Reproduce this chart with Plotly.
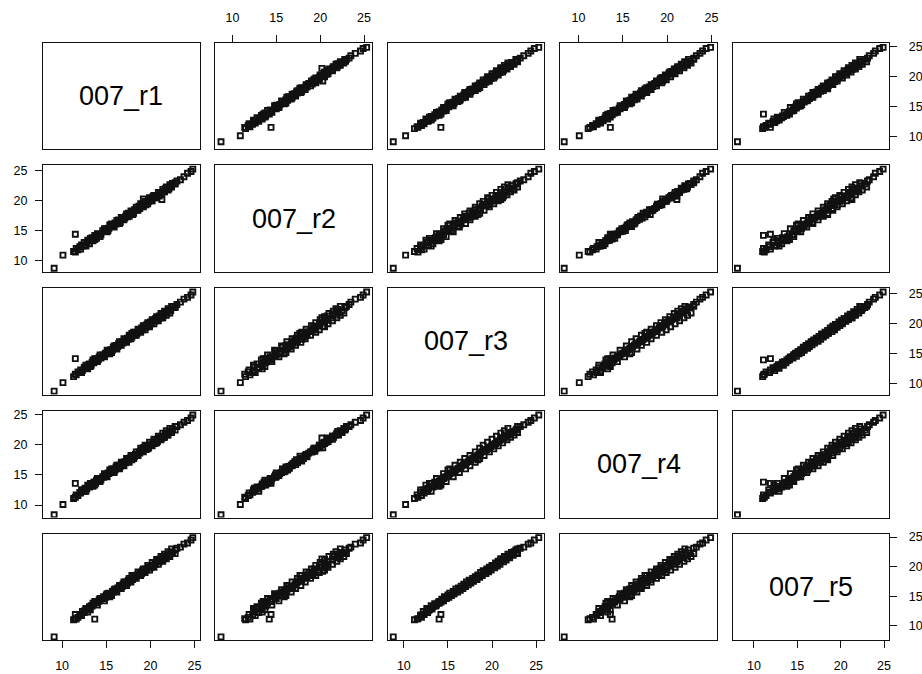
import plotly.graph_objects as go

names = ["007_r1", "007_r2", "007_r3", "007_r4", "007_r5"]
tick_values = [10, 15, 20, 25]

r1 = [11.3, 11.5, 11.6, 11.8, 12.0, 12.1, 12.3, 12.5, 12.6, 12.8, 13.0, 13.1, 13.3, 13.4, 13.6, 13.8,
      13.9, 14.1, 14.2, 14.4, 14.6, 14.7, 14.9, 15.0, 15.2, 15.3, 15.5, 15.7, 15.8, 16.0, 16.1, 16.3,
      16.4, 16.6, 16.8, 16.9, 17.1, 17.2, 17.4, 17.5, 17.7, 17.9, 18.0, 18.2, 18.3, 18.5, 18.7, 18.8,
      19.0, 19.1, 19.3, 19.5, 19.6, 19.8, 20.0, 20.1, 20.3, 20.5, 20.6, 20.8, 21.0, 21.1, 21.3, 21.5,
      21.7, 21.9, 22.1, 22.3, 22.5, 22.8, 23.0, 23.4, 23.8, 24.2, 24.6, 24.8,
      9.1, 10.1, 13.7, 11.5, 21.3, 19.2, 22.8,
      12.2, 12.7, 13.2, 13.5, 14.0, 14.3, 14.8, 15.1, 15.4, 15.9, 16.2, 16.5, 16.7, 17.0, 17.3, 17.6,
      17.8, 18.1, 18.4, 18.6, 18.9, 19.2, 19.4, 19.7, 19.9, 20.2, 20.4, 20.7, 20.9, 21.2, 21.4, 21.6,
      21.8, 22.0, 22.2, 22.4, 12.9, 13.7, 15.6, 17.9]
r2 = [11.5, 11.4, 12.0, 11.8, 12.3, 11.9, 12.4, 13.0, 12.5, 13.0, 13.3, 12.8, 13.4, 13.8, 13.6, 14.0,
      13.7, 14.4, 14.3, 14.3, 15.0, 14.9, 14.9, 15.3, 15.0, 15.4, 16.0, 15.9, 15.7, 16.3, 16.1, 16.5,
      16.8, 16.4, 16.9, 17.2, 17.1, 17.4, 17.3, 17.9, 17.8, 18.1, 17.7, 18.5, 18.4, 18.5, 19.1, 18.7,
      19.2, 19.4, 19.3, 19.3, 19.9, 19.9, 20.2, 20.0, 20.7, 20.5, 20.8, 20.9, 20.8, 21.4, 21.4, 21.5,
      22.0, 22.1, 22.0, 22.5, 22.9, 22.8, 23.3, 23.5, 24.0, 24.6, 24.9, 25.3,
      8.7, 10.9, 14.2, 14.4, 20.2, 20.3, 23.0,
      12.6, 12.4, 13.7, 13.3, 14.5, 14.0, 15.3, 14.8, 15.9, 15.6, 16.7, 16.2, 17.2, 16.8, 17.8, 17.4,
      18.3, 17.9, 18.9, 18.4, 19.5, 19.0, 19.9, 19.5, 20.5, 20.0, 20.9, 20.5, 21.4, 21.0, 21.9, 21.5,
      22.3, 21.8, 22.7, 22.3, 13.4, 13.5, 16.1, 17.7]
r3 = [11.2, 11.6, 11.5, 12.0, 11.9, 12.3, 12.2, 12.7, 12.8, 12.6, 13.2, 13.3, 13.1, 13.6, 13.5, 13.9,
      14.2, 14.0, 14.5, 14.3, 14.8, 14.6, 15.1, 15.0, 15.4, 15.2, 15.7, 15.6, 16.1, 15.9, 16.4, 16.2,
      16.7, 16.5, 17.0, 16.8, 17.3, 17.1, 17.6, 17.4, 17.9, 17.8, 18.3, 18.1, 18.6, 18.4, 18.9, 18.7,
      19.3, 19.0, 19.6, 19.4, 19.9, 19.7, 20.3, 20.0, 20.6, 20.4, 20.9, 20.7, 21.3, 21.0, 21.6, 21.4,
      22.0, 21.8, 22.4, 22.2, 22.8, 22.7, 23.2, 23.6, 24.1, 24.4, 24.8, 25.3,
      8.8, 10.2, 14.0, 14.2, 21.0, 19.6, 22.9,
      11.9, 13.1, 12.9, 14.0, 13.7, 14.8, 14.5, 15.6, 15.0, 16.3, 15.8, 17.0, 16.4, 17.5, 16.9, 18.1,
      17.5, 18.6, 18.1, 19.1, 18.6, 19.7, 19.0, 20.2, 19.5, 20.7, 20.0, 21.2, 20.5, 21.7, 21.0, 22.1,
      21.4, 22.5, 21.8, 22.9, 12.5, 14.2, 15.2, 18.4]
r4 = [11.1, 11.3, 11.7, 11.6, 12.1, 12.0, 12.5, 12.3, 12.8, 12.7, 13.1, 13.0, 13.5, 13.3, 13.8, 13.6,
      14.1, 14.0, 14.4, 14.2, 14.7, 14.6, 15.0, 14.9, 15.3, 15.2, 15.6, 15.5, 16.0, 15.8, 16.3, 16.1,
      16.6, 16.4, 16.9, 16.7, 17.2, 17.0, 17.5, 17.3, 17.8, 17.7, 18.1, 18.0, 18.4, 18.3, 18.8, 18.6,
      19.1, 18.9, 19.4, 19.2, 19.7, 19.5, 20.0, 19.9, 20.4, 20.2, 20.7, 20.5, 21.1, 20.9, 21.4, 21.2,
      21.8, 21.6, 22.2, 22.0, 22.6, 22.4, 23.0, 23.3, 23.7, 24.0, 24.4, 24.9,
      8.4, 10.1, 13.8, 13.6, 21.1, 19.5, 23.0,
      12.5, 12.3, 13.6, 13.1, 14.4, 13.9, 15.2, 14.7, 15.8, 15.4, 16.6, 16.0, 17.1, 16.5, 17.7, 17.1,
      18.2, 17.7, 18.8, 18.2, 19.4, 18.8, 19.9, 19.3, 20.4, 19.8, 20.9, 20.3, 21.4, 20.8, 21.9, 21.2,
      22.3, 21.6, 22.7, 22.0, 13.3, 13.3, 16.0, 17.5]
r5 = [11.0, 11.2, 11.1, 11.4, 11.8, 11.9, 12.4, 12.2, 12.6, 12.9, 12.8, 13.2, 13.4, 13.3, 13.7, 13.9,
      14.0, 14.1, 14.4, 14.5, 14.6, 14.9, 14.8, 15.2, 15.1, 15.5, 15.4, 15.8, 15.7, 16.2, 16.0, 16.4,
      16.3, 16.7, 16.6, 17.0, 16.9, 17.4, 17.2, 17.7, 17.5, 18.0, 17.8, 18.3, 18.2, 18.6, 18.5, 19.0,
      18.8, 19.3, 19.1, 19.6, 19.4, 19.9, 19.8, 20.2, 20.1, 20.6, 20.4, 20.9, 20.8, 21.3, 21.1, 21.7,
      21.5, 22.1, 21.9, 22.4, 22.3, 22.8, 23.1, 23.3, 23.8, 24.0, 24.5, 24.9,
      8.1, None, 11.1, 11.9, 21.3, 19.2, 22.2,
      11.7, 12.9, 12.7, 13.8, 13.5, 14.6, 14.2, 15.4, 14.9, 16.1, 15.7, 16.8, 16.3, 17.4, 16.8, 18.0,
      17.4, 18.5, 18.0, 19.1, 18.5, 19.6, 19.0, 20.2, 19.4, 20.7, 19.9, 21.2, 20.4, 21.7, 20.9, 22.1,
      21.3, 22.5, 21.7, 23.0, 12.3, 14.1, 15.1, 18.5]

series = [r1, r2, r3, r4, r5]
ranges = [[7.84, 25.57], [8.06, 25.91], [8.18, 25.94], [7.95, 25.6], [7.54, 25.6]]

W, H = 922, 674
col_left0, col_step, col_w = 43.0, 172.4, 156.6
row_top0, row_step, row_h = 42.7, 122.7, 106.7
INK = "#111111"
FONT = "Liberation Sans, Arial, Helvetica, sans-serif"

fig = go.Figure()
layout = {}
annotations = []
for i in range(5):
    for j in range(5):
        k = i * 5 + j + 1
        sx = "" if k == 1 else str(k)
        xref, yref = "x" + sx, "y" + sx
        if i != j:
            fig.add_trace(go.Scatter(
                x=series[j], y=series[i], mode="markers",
                marker=dict(symbol="square-open", size=5, color=INK,
                            line=dict(width=1.9, color=INK)),
                xaxis=xref, yaxis=yref, showlegend=False, hoverinfo="skip"))
        else:
            fig.add_trace(go.Scatter(x=[None], y=[None], mode="markers",
                                     xaxis=xref, yaxis=yref, showlegend=False,
                                     hoverinfo="skip"))
            annotations.append(dict(text=names[i], xref=xref + " domain", yref=yref + " domain",
                                    x=0.5, y=0.5, showarrow=False,
                                    font=dict(family=FONT, size=27, color="black")))
        x0 = (col_left0 + j * col_step) / W
        x1 = (col_left0 + j * col_step + col_w) / W
        y1 = 1 - (row_top0 + i * row_step) / H
        y0 = 1 - (row_top0 + i * row_step + row_h) / H

        show_x = (i == 0 and j % 2 == 1) or (i == 4 and j % 2 == 0)
        show_y = (j == 0 and i % 2 == 1) or (j == 4 and i % 2 == 0)
        common = dict(showgrid=False, zeroline=False, showline=True, mirror=True,
                      linecolor=INK, linewidth=1, tickvals=tick_values,
                      ticklen=7, tickwidth=1, tickcolor=INK, automargin=False,
                      tickfont=dict(family=FONT, size=12.5, color="black"))
        layout["xaxis" + sx] = dict(common, domain=[x0, x1], range=ranges[j], anchor=yref,
                                    ticks="outside" if show_x else "",
                                    showticklabels=show_x,
                                    side="top" if i == 0 else "bottom",
                                    ticklabelstandoff=8 if i == 0 else 7)
        layout["yaxis" + sx] = dict(common, domain=[y0, y1], range=ranges[i], anchor=xref,
                                    ticks="outside" if show_y else "",
                                    showticklabels=show_y,
                                    side="left" if j == 0 else "right",
                                    ticklabelstandoff=5 if j == 0 else 9)

fig.update_layout(**layout)
fig.update_layout(width=W, height=H, margin=dict(l=0, r=0, t=0, b=0, autoexpand=False),
                  plot_bgcolor="white", paper_bgcolor="white",
                  annotations=annotations, showlegend=False)
fig.write_html("out.html", config={"displayModeBar": False},
               post_script="document.body.style.margin='0px';document.body.style.overflow='hidden';")
